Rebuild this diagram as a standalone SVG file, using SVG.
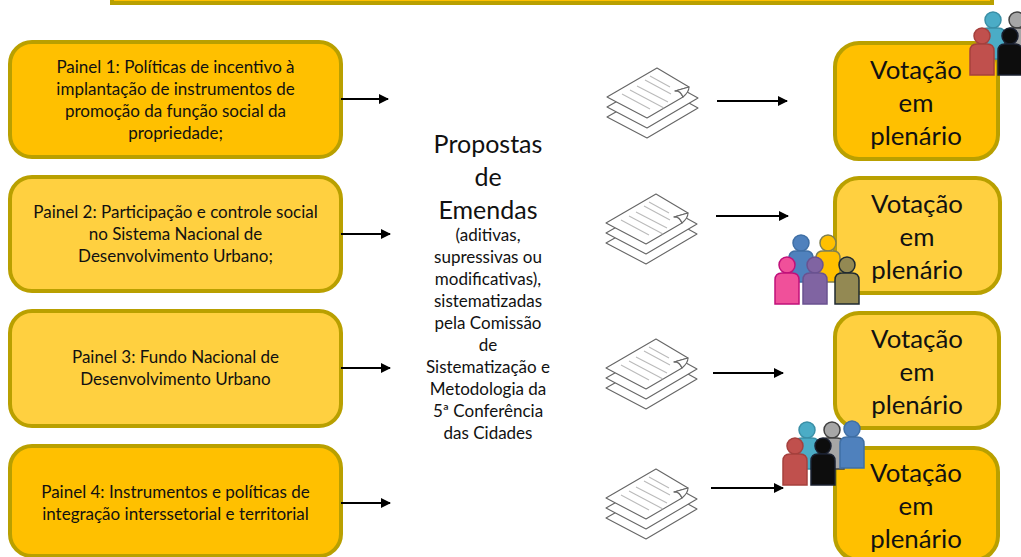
<svg xmlns="http://www.w3.org/2000/svg" width="1021" height="557" viewBox="0 0 1021 557">
<style>
text{font-family:Lato,"Noto Sans",sans-serif;fill:#111;text-anchor:middle}
.s{font-size:17px}
.b{font-size:25.8px}
.c{font-size:25px}
.box{stroke:#B9A000;stroke-width:4}
.d{fill:#FFC000}.l{fill:#FFD040}
.ar{stroke:#000;stroke-width:2;fill:none;marker-end:url(#ah)}
.doc{fill:#fff;stroke:#666;stroke-width:1.1;stroke-linejoin:round}
.ln{stroke:#bbb;stroke-width:1.1;fill:none}
</style>
<defs>
<marker id="ah" markerUnits="userSpaceOnUse" markerWidth="10" markerHeight="10" refX="9" refY="5" orient="auto"><path d="M0 0L10 5L0 10Z" fill="#000"/></marker>
<g id="p"><circle cx="0" cy="0" r="8"/><path d="M-12 39V15Q-12 8-5 8H5Q12 8 12 15V39Z"/></g>
<g id="docs">
<path class="doc" d="M607 117L647 138L698 108L660 87Z"/>
<path class="doc" d="M607 107L647 128L698 98L660 77Z"/>
<path class="doc" d="M607 97L647 118L683 97Q680 90 675 91L689 87L657 68Z"/>
<path class="doc" d="M683 97Q680 90 675 91L682 89L689 87Q689 92 683 97Z"/>
<path class="ln" d="M622 94L650 109M630 90L664 108M637 86L668 102M645 80L671 94M650 76L670 87"/>
</g>
</defs>

<g id="top"><rect class="box d" x="112" y="-30" width="880" height="33"/></g>

<g id="painel1"><rect class="box d" x="10" y="42" width="331" height="115" rx="22"/>
<text class="s"><tspan x="175.5" y="73">Painel 1: Políticas de incentivo à</tspan><tspan x="175.5" y="95">implantação de instrumentos de</tspan><tspan x="175.5" y="117">promoção da função social da</tspan><tspan x="175.5" y="139">propriedade;</tspan></text></g>
<g id="painel2"><rect class="box l" x="10" y="177" width="331" height="114" rx="22"/>
<text class="s"><tspan x="175.5" y="218">Painel 2: Participação e controle social</tspan><tspan x="175.5" y="240">no Sistema Nacional de</tspan><tspan x="175.5" y="262">Desenvolvimento Urbano;</tspan></text></g>
<g id="painel3"><rect class="box l" x="10" y="311" width="331" height="115" rx="22"/>
<text class="s"><tspan x="175.5" y="363">Painel 3: Fundo Nacional de</tspan><tspan x="175.5" y="385">Desenvolvimento Urbano</tspan></text></g>
<g id="painel4"><rect class="box d" x="10" y="446" width="331" height="110" rx="22"/>
<text class="s"><tspan x="175.5" y="498">Painel 4: Instrumentos e políticas de</tspan><tspan x="175.5" y="520">integração interssetorial e territorial</tspan></text></g>

<g id="propostas">
<text class="c"><tspan x="488" y="153">Propostas</tspan><tspan x="488" y="186">de</tspan><tspan x="488" y="219">Emendas</tspan></text>
<text class="s"><tspan x="488" y="241">(aditivas,</tspan><tspan x="488" y="263">supressivas ou</tspan><tspan x="488" y="285">modificativas),</tspan><tspan x="488" y="307">sistematizadas</tspan><tspan x="488" y="329">pela Comissão</tspan><tspan x="488" y="351">de</tspan><tspan x="488" y="373">Sistematização e</tspan><tspan x="488" y="395">Metodologia da</tspan><tspan x="488" y="417">5ª Conferência</tspan><tspan x="488" y="439">das Cidades</tspan></text>
</g>

<g id="docs1"><use href="#docs"/></g>
<g id="docs2"><use href="#docs" x="-1" y="126"/></g>
<g id="docs3"><use href="#docs" x="-1" y="271"/></g>
<g id="docs4"><use href="#docs" x="-1" y="401"/></g>

<g id="votacao1"><rect class="box d" x="835" y="43" width="163" height="116" rx="24"/>
<text class="b"><tspan x="916" y="79">Votação</tspan><tspan x="916" y="112">em</tspan><tspan x="916" y="145">plenário</tspan></text></g>
<g id="votacao2"><rect class="box l" x="835" y="178" width="165" height="115" rx="24"/>
<text class="b"><tspan x="917" y="213">Votação</tspan><tspan x="917" y="246">em</tspan><tspan x="917" y="279">plenário</tspan></text></g>
<g id="votacao3"><rect class="box l" x="835" y="313" width="164" height="115" rx="24"/>
<text class="b"><tspan x="917" y="348">Votação</tspan><tspan x="917" y="381">em</tspan><tspan x="917" y="414">plenário</tspan></text></g>
<g id="votacao4"><rect class="box d" x="835" y="448" width="163" height="112" rx="24"/>
<text class="b"><tspan x="916" y="482">Votação</tspan><tspan x="916" y="515">em</tspan><tspan x="916" y="548">plenário</tspan></text></g>

<g id="pessoas1" stroke-width="1.5">
<use href="#p" x="993" y="20" fill="#4BACC6" stroke="#3A8FA6"/>
<use href="#p" x="1017" y="20" fill="#A6A6A6" stroke="#404040"/>
<use href="#p" x="982" y="36" fill="#C0504D" stroke="#A5403D"/>
<use href="#p" x="1010" y="36" fill="#0D0D0D" stroke="#1A2030"/>
</g>
<g id="pessoas2" stroke-width="1.5">
<use href="#p" x="801" y="243" fill="#4F81BD" stroke="#3F6FA5"/>
<use href="#p" x="828" y="243" fill="#FFC000" stroke="#7F7F50"/>
<use href="#p" x="787" y="265" fill="#F0509A" stroke="#C0107A"/>
<use href="#p" x="815" y="265" fill="#8064A2" stroke="#6A5290"/>
<use href="#p" x="847" y="265" fill="#938953" stroke="#1F2A30"/>
</g>
<g id="pessoas3" stroke-width="1.5">
<use href="#p" x="807" y="430" fill="#4BACC6" stroke="#3A8FA6"/>
<use href="#p" x="832" y="430" fill="#A6A6A6" stroke="#404040"/>
<use href="#p" x="795" y="446" fill="#C0504D" stroke="#A5403D"/>
<use href="#p" x="823" y="446" fill="#0D0D0D" stroke="#1A2030"/>
<use href="#p" x="852" y="429" fill="#4F81BD" stroke="#3F6FA5"/>
</g>

<g id="conectores">
<path class="ar" d="M341 99H388"/>
<path class="ar" d="M341 234H390"/>
<path class="ar" d="M341 368H390"/>
<path class="ar" d="M341 503H390"/>
<path class="ar" d="M717 101H787"/>
<path class="ar" d="M716 216H788"/>
<path class="ar" d="M713 373H783"/>
<path class="ar" d="M711 488H783"/>
</g>
</svg>
